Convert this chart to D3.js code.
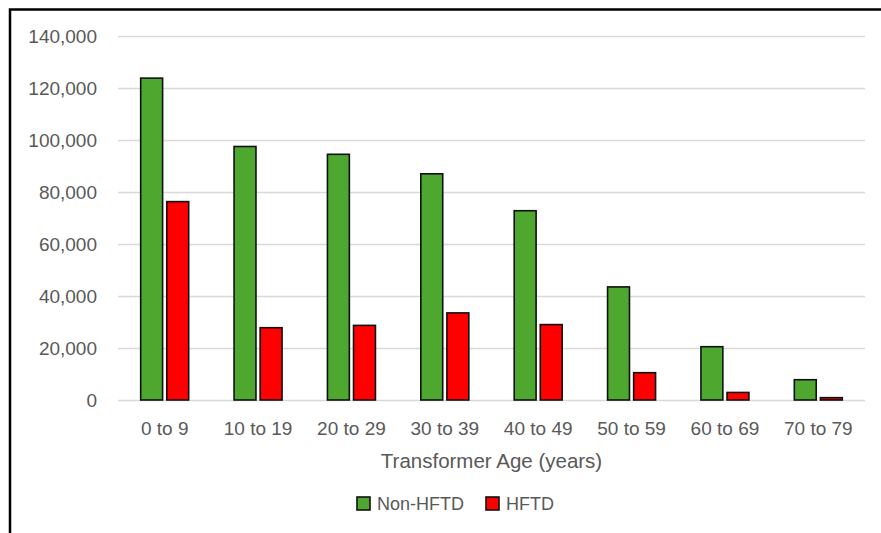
<!DOCTYPE html>
<html>
<head>
<meta charset="utf-8">
<script src="https://cdn.jsdelivr.net/npm/d3@7"></script>
<style>
  html, body { margin: 0; padding: 0; background: #fff; }
  svg { display: block; }
  text { font-family: "Liberation Sans", Arial, sans-serif; }
</style>
</head>
<body>
<svg id="chart" width="881" height="533"></svg>
<script>
// Transformer counts by age band, split by fire-threat district
const categories = ["0 to 9", "10 to 19", "20 to 29", "30 to 39", "40 to 49", "50 to 59", "60 to 69", "70 to 79"];
const seriesNames = ["Non-HFTD", "HFTD"];
const nonHftd = [123800, 97500, 94500, 87000, 72800, 43500, 20500, 7800];
const hftd = [76300, 27800, 28700, 33500, 29000, 10500, 2900, 900];
const yTicks = [0, 20000, 40000, 60000, 80000, 100000, 120000, 140000];
const colors = ["#4EA72E", "#FF0000"];

const svg = d3.select("#chart");
const values = [nonHftd, hftd];

const plot = { left: 118, right: 865, top: 36, bottom: 400 };

const x0 = d3.scaleBand().domain(categories).range([plot.left, plot.right]).padding(0);
const x1 = d3.scaleBand().domain(seriesNames).range([-24, 24]).paddingInner(0.16);
const y = d3.scaleLinear().domain([0, 140000]).range([plot.bottom, plot.top]);

// outer frame
svg.append("rect")
  .attr("x", 10).attr("y", 9.5)
  .attr("width", 900).attr("height", 600)
  .attr("fill", "none").attr("stroke", "#000").attr("stroke-width", 2.5);

// horizontal gridlines
const yAxis = d3.axisLeft(y).tickValues(yTicks)
  .tickSize(-(plot.right - plot.left))
  .tickPadding(21)
  .tickFormat(d3.format(","));
const gy = svg.append("g").attr("transform", `translate(${plot.left},0)`).call(yAxis);
gy.select(".domain").remove();
gy.selectAll(".tick line").attr("stroke", "#d9d9d9").attr("stroke-width", 1.5);
gy.selectAll(".tick text")
  .attr("fill", "#595959")
  .style("font-size", "19px")
  .attr("dy", "0.35em");

// bars
const groups = svg.append("g").selectAll("g")
  .data(categories)
  .join("g")
  .attr("transform", d => `translate(${x0(d) + x0.bandwidth() / 2},0)`);

groups.selectAll("rect")
  .data((c, i) => seriesNames.map((s, k) => ({ s, k, v: values[k][i] })))
  .join("rect")
  .attr("x", d => x1(d.s))
  .attr("width", x1.bandwidth())
  .attr("y", d => y(d.v))
  .attr("height", d => y(0) - y(d.v))
  .attr("fill", d => colors[d.k])
  .attr("stroke", "#111")
  .attr("stroke-width", 1.6);

// category axis labels
const xAxis = d3.axisBottom(x0).tickSize(0).tickPadding(22);
const gx = svg.append("g").attr("transform", `translate(0,${plot.bottom})`).call(xAxis);
gx.select(".domain").remove();
gx.selectAll(".tick text")
  .attr("fill", "#595959")
  .style("font-size", "19px");

// axis title
svg.append("text")
  .attr("x", (plot.left + plot.right) / 2)
  .attr("y", 468)
  .attr("text-anchor", "middle")
  .attr("fill", "#595959")
  .style("font-size", "20.5px")
  .text("Transformer Age (years)");

// legend
const legendItems = [
  { name: seriesNames[0], color: colors[0], x: 357 },
  { name: seriesNames[1], color: colors[1], x: 486 }
];
const lg = svg.append("g").selectAll("g").data(legendItems).join("g")
  .attr("transform", d => `translate(${d.x},497)`);
lg.append("rect")
  .attr("width", 13).attr("height", 13)
  .attr("fill", d => d.color)
  .attr("stroke", "#111").attr("stroke-width", 1.6);
lg.append("text")
  .attr("x", 20).attr("y", 6.5).attr("dy", "0.35em")
  .attr("fill", "#595959")
  .style("font-size", "18px")
  .text(d => d.name);
</script>
</body>
</html>
